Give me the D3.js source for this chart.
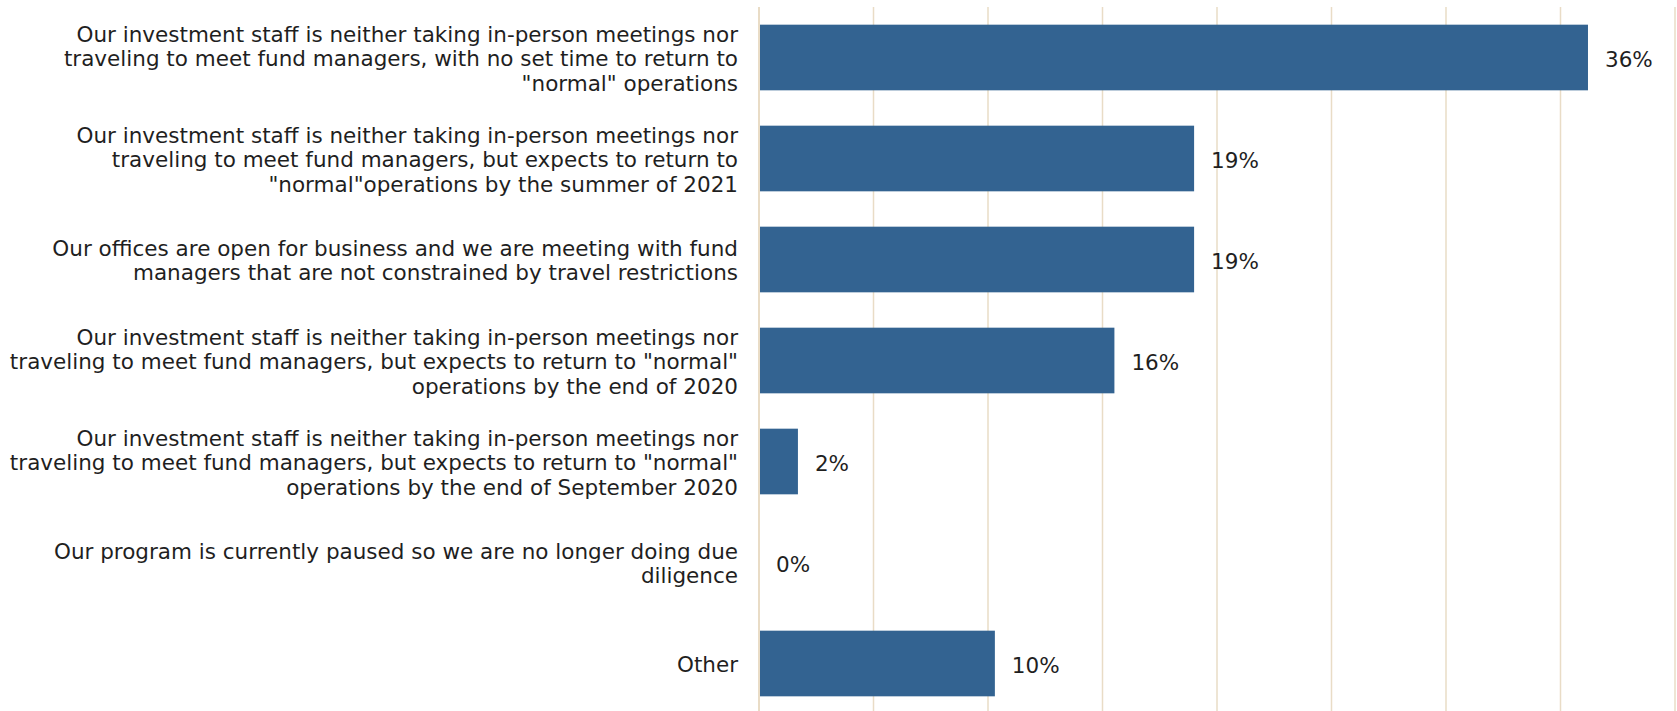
<!DOCTYPE html>
<html>
<head>
<meta charset="utf-8">
<script src="https://cdn.jsdelivr.net/npm/d3@7"></script>
<style>
  html, body { margin: 0; padding: 0; background: #fff; }
  text { font-family: "DejaVu Sans", Verdana, sans-serif; fill: #1f1f1f; }
</style>
</head>
<body>
<div id="chart"></div>
<script>
const width = 1677
const height = 711

// category labels, wrapped the way the original shows them
const categories = [
  ["Our investment staff is neither taking in-person meetings nor",
   "traveling to meet fund managers, with no set time to return to",
   "\"normal\" operations"],
  ["Our investment staff is neither taking in-person meetings nor",
   "traveling to meet fund managers, but expects to return to",
   "\"normal\"operations by the summer of 2021"],
  ["Our offices are open for business and we are meeting with fund",
   "managers that are not constrained by travel restrictions"],
  ["Our investment staff is neither taking in-person meetings nor",
   "traveling to meet fund managers, but expects to return to \"normal\"",
   "operations by the end of 2020"],
  ["Our investment staff is neither taking in-person meetings nor",
   "traveling to meet fund managers, but expects to return to \"normal\"",
   "operations by the end of September 2020"],
  ["Our program is currently paused so we are no longer doing due",
   "diligence"],
  ["Other"]
]
const values = [0.362, 0.19, 0.19, 0.1552, 0.017, 0, 0.103]
const gridTicks = [0, 0.05, 0.10, 0.15, 0.20, 0.25, 0.30, 0.35, 0.40]

const svg = d3.select("#chart")
              .append("svg")
              .attr("width", width)
              .attr("height", height)

const x = d3.scaleLinear()
            .domain([0, 0.40])
            .range([759, 1675])

const y = d3.scaleBand()
            .domain(d3.range(categories.length))
            .range([7, 714])
            .paddingInner(0.35)
            .paddingOuter(0.175)

// vertical grid lines
svg.append("g")
   .selectAll("line")
   .data(gridTicks)
   .enter()
   .append("line")
   .attr("x1", d => x(d))
   .attr("x2", d => x(d))
   .attr("y1", 7)
   .attr("y2", height)
   .attr("stroke", "#e9dcc6")
   .attr("stroke-width", d => d === 0 ? 2 : 1.5)

// bars
svg.append("g")
   .selectAll("rect")
   .data(values)
   .enter()
   .append("rect")
   .attr("x", x(0) + 1)
   .attr("y", (d, i) => y(i))
   .attr("width", d => Math.max(0, x(d) - x(0) - 1))
   .attr("height", y.bandwidth())
   .attr("fill", "#336391")

// value labels
const fmt = d3.format(".0%")
svg.append("g")
   .selectAll("text")
   .data(values)
   .enter()
   .append("text")
   .attr("x", d => x(d) + 17)
   .attr("y", (d, i) => y(i) + y.bandwidth() / 2)
   .attr("dy", "0.42em")
   .style("font-size", "21.5px")
   .text(d => fmt(d))

// category labels
const lineH = 24.6
const labels = svg.append("g")
                  .selectAll("text")
                  .data(categories)
                  .enter()
                  .append("text")
                  .attr("text-anchor", "end")
                  .style("font-size", "21.5px")
                  .attr("transform", (d, i) => `translate(738, ${y(i) + y.bandwidth() / 2})`)

labels.selectAll("tspan")
      .data(d => d.map((t, j) => ({t, j, n: d.length})))
      .enter()
      .append("tspan")
      .attr("x", 0)
      .attr("y", d => (d.j - (d.n - 1) / 2) * lineH)
      .attr("dy", "0.4em")
      .text(d => d.t)
</script>
</body>
</html>
